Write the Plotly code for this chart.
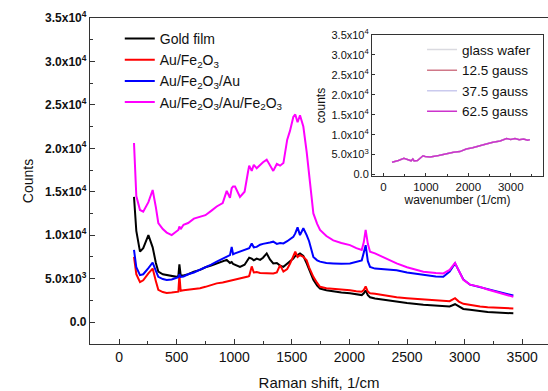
import plotly.graph_objects as go

# ---- Raman spectra (main panel) ----
wavenumber = [130, 150, 182, 210, 255, 292, 320, 341, 380, 414, 457, 500, 515, 524, 535, 560,
              600, 650, 703, 750, 800, 848, 900, 935, 963, 978, 990, 1007, 1050, 1090, 1120,
              1130, 1152, 1170, 1195, 1225, 1250, 1282, 1310, 1339, 1370, 1398, 1427, 1460,
              1484, 1513, 1530, 1550, 1571, 1600, 1629, 1650, 1687, 1720, 1745, 1800, 1860,
              1930, 2005, 2060, 2107, 2125, 2141, 2160, 2179, 2222, 2300, 2410, 2500, 2642,
              2750, 2815, 2870, 2917, 2950, 2989, 3047, 3134, 3200, 3279, 3350, 3423]

gold_film = [14400, 10500, 8100, 8500, 10000, 8600, 6800, 5800, 5500, 5400, 5250, 5200, 5300,
             6650, 5400, 5350, 5500, 5800, 6000, 6300, 6500, 6750, 7000, 7150, 6800, 6900,
             6700, 6600, 6350, 6600, 7200, 7400, 7300, 7100, 7300, 7150, 7400, 7900, 7200,
             6750, 6800, 6500, 6350, 6700, 6950, 7300, 7600, 7700, 7900, 7600, 6750, 6000,
             4850, 4200, 3850, 3650, 3500, 3400, 3300, 3200, 3100, 3300, 3650, 3100, 2850,
             2700, 2550, 2350, 2200, 2000, 1900, 1800, 1800, 2050, 1750, 1500, 1400, 1250,
             1150, 1100, 1050, 1000]

au_fe2o3 = [7500, 5500, 4600, 4800, 5600, 6150, 4700, 3700, 3450, 3350, 3400, 3450, 3500,
            5400, 3600, 3650, 3700, 3800, 3900, 4050, 4250, 4450, 4550, 4650, 4750, 4800,
            4850, 4900, 5000, 5100, 5250, 5300, 6400, 5700, 5750, 5650, 5650, 5600, 5650,
            5600, 5700, 6550, 5800, 6100, 6700, 7500, 8100, 7500, 7700, 7500, 7100, 6300,
            5200, 4500, 4050, 3900, 3850, 3750, 3650, 3550, 3480, 3700, 4100, 3500, 3300,
            3250, 3050, 2850, 2750, 2600, 2480, 2400, 2400, 2750, 2350, 2100, 1950, 1800,
            1700, 1650, 1600, 1570]

au_fe2o3_au = [8300, 6300, 5400, 5500, 6200, 6850, 5900, 5200, 4950, 4850, 4900, 5100, 5150,
               5500, 5200, 5250, 5500, 5700, 6000, 6300, 6600, 6950, 7300, 7500, 7700, 8650,
               7800, 7900, 8100, 8300, 8500, 8500, 9050, 8600, 8650, 8900, 9000, 9050, 9150,
               9250, 9000, 9100, 9050, 9300, 9500, 9800, 10200, 10900, 10000, 10800, 10000,
               9300, 7500, 7100, 6950, 6800, 6750, 6700, 6750, 6900, 7100, 8000, 8850, 7000,
               6350, 6150, 6050, 5950, 5700, 5400, 5250, 5200, 5800, 6750, 5900, 4900, 4300,
               4000, 3750, 3500, 3300, 3050]

au_fe2o3_au_fe2o3 = [20600, 14500, 12900, 12700, 13800, 15200, 13200, 11400, 10700, 10300,
                     10000, 10400, 10600, 11000, 10700, 11200, 11400, 11900, 12100, 12300,
                     12800, 13300, 13700, 15100, 14300, 15400, 15600, 15600, 14400, 15000,
                     17300, 18000, 17400, 18100, 17700, 18100, 18400, 18700, 18000, 17400,
                     18200, 18000, 18300, 21000, 22000, 23600, 23900, 23000, 23800, 22500,
                     19600, 17000, 12500, 11300, 10600, 9900, 9400, 9100, 8850, 8500, 8300,
                     9200, 10600, 9000, 8100, 7900, 7400, 6750, 6300, 5800, 5650, 5600, 6000,
                     6800, 5900, 4850, 4300, 4050, 3750, 3450, 3200, 2900]

main_names = ["Gold film", "Au/Fe<sub>2</sub>O<sub>3</sub>", "Au/Fe<sub>2</sub>O<sub>3</sub>/Au",
              "Au/Fe<sub>2</sub>O<sub>3</sub>/Au/Fe<sub>2</sub>O<sub>3</sub>"]
main_series = [gold_film, au_fe2o3, au_fe2o3_au, au_fe2o3_au_fe2o3]
main_colors = ["#000000", "#ff0000", "#0000ff", "#ff00ff"]

# ---- inset: field-dependent spectra ----
inset_wavenumber = [200, 350, 480, 560, 650, 690, 720, 800, 930, 980, 1100, 1300, 1500, 1650,
                    1800, 1950, 2100, 2270, 2400, 2580, 2750, 2900, 3000, 3100, 3200, 3300,
                    3400, 3450]
inset_counts = [3100, 3500, 4050, 3800, 3450, 3900, 3400, 3500, 4700, 4500, 4400, 4750, 5300,
                5600, 5750, 6400, 6700, 7300, 7600, 8100, 8400, 9000, 8800, 9000, 8700, 8900,
                8600, 8750]
inset_names = ["glass wafer", "12.5 gauss", "37.5 gauss", "62.5 gauss"]
inset_colors = ["#dadae0", "#d07888", "#cacaee", "#cc33cc"]

y_ticks = [0, 5000, 10000, 15000, 20000, 25000, 30000, 35000]
y_ticktext = ["0.0", "5.0x10<sup>3</sup>", "1.0x10<sup>4</sup>", "1.5x10<sup>4</sup>",
              "2.0x10<sup>4</sup>", "2.5x10<sup>4</sup>", "3.0x10<sup>4</sup>", "3.5x10<sup>4</sup>"]
x_ticks = [0, 500, 1000, 1500, 2000, 2500, 3000, 3500]
inset_x_ticks = [0, 1000, 2000, 3000]

FONT = "Liberation Sans, Arial, sans-serif"

fig = go.Figure()

for name, vals, col in zip(main_names, main_series, main_colors):
    fig.add_trace(go.Scatter(x=wavenumber, y=vals, name=name, mode="lines",
                             line=dict(color=col, width=2), legend="legend",
                             xaxis="x", yaxis="y"))

for name, col in zip(inset_names, inset_colors):
    fig.add_trace(go.Scatter(x=inset_wavenumber, y=inset_counts, name=name, mode="lines",
                             line=dict(color=col, width=1.5), legend="legend2",
                             xaxis="x2", yaxis="y2"))

axis_common = dict(showline=True, linecolor="#333", linewidth=1.3, showgrid=False,
                   zeroline=False, ticks="inside", tickcolor="#333")

fig.update_layout(
    width=548, height=391,
    margin=dict(l=90, r=0, t=18, b=47),
    paper_bgcolor="white", plot_bgcolor="white",
    font=dict(family=FONT, color="#111"),
    xaxis=dict(**axis_common, range=[-252, 3724], tickvals=x_ticks, ticklen=5, mirror=True,
               minor=dict(ticks="inside", ticklen=3, dtick=250, tick0=0, tickcolor="#333"),
               tickfont=dict(size=14),
               title=dict(text="Raman shift, 1/cm", font=dict(size=15), standoff=16)),
    yaxis=dict(**axis_common, range=[-2530, 35000], tickvals=y_ticks, ticktext=y_ticktext,
               ticklen=5,
               minor=dict(ticks="inside", ticklen=3, dtick=2500, tick0=0, tickcolor="#333"),
               tickfont=dict(size=12, weight="bold"),
               title=dict(text="Counts", font=dict(size=14), standoff=8)),
    xaxis2=dict(**axis_common, domain=[0.616, 0.989], anchor="y2", range=[-270, 3760],
                tickvals=inset_x_ticks, ticklen=3, mirror=True,
                minor=dict(ticks="inside", ticklen=2, dtick=500, tick0=0, tickcolor="#333"),
                tickfont=dict(size=11.5),
                title=dict(text="wavenumber (1/cm)", font=dict(size=12), standoff=2)),
    yaxis2=dict(**axis_common, domain=[0.515, 0.948], anchor="x2", range=[-400, 35000],
                tickvals=y_ticks, ticktext=y_ticktext, ticklen=3, mirror=True,
                tickfont=dict(size=11),
                title=dict(text="counts", font=dict(size=12), standoff=3)),
    legend=dict(x=0.065, y=0.985, xanchor="left", yanchor="top", bgcolor="rgba(0,0,0,0)",
                font=dict(size=14), itemwidth=30, tracegroupgap=0),
    legend2=dict(x=0.725, y=0.95, xanchor="left", yanchor="top", bgcolor="rgba(0,0,0,0)",
                 font=dict(size=13.5), itemwidth=30),
    showlegend=True,
)

fig.write_html("out.html")
